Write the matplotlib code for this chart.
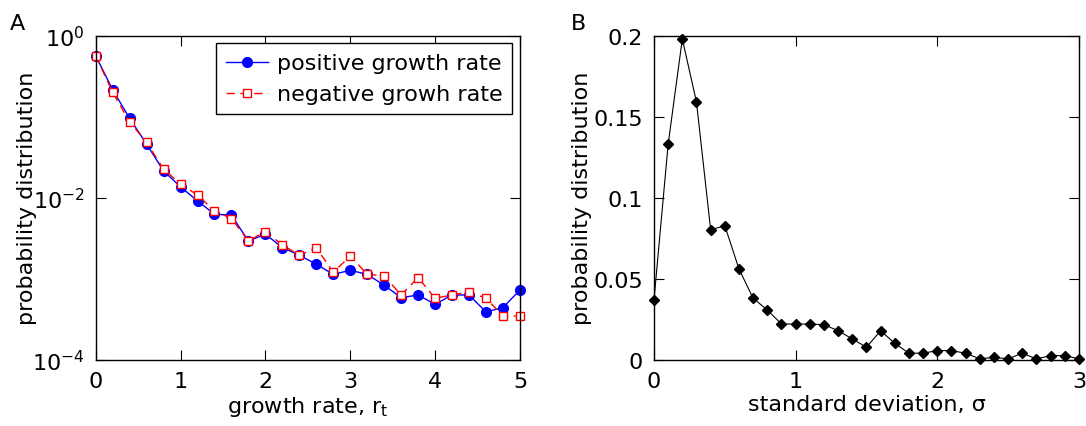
import matplotlib
matplotlib.use("Agg")
import matplotlib.pyplot as plt
import numpy as np

plt.rcParams['font.family'] = ['DejaVu Sans']
plt.rcParams['font.size'] = 16
plt.rcParams['mathtext.default'] = 'regular'

# growth-rate distribution (panel A)
rate = [0.0, 0.2, 0.4, 0.6, 0.8, 1.0, 1.2, 1.4, 1.6, 1.8, 2.0, 2.2, 2.4,
        2.6, 2.8, 3.0, 3.2, 3.4, 3.6, 3.8, 4.0, 4.2, 4.4, 4.6, 4.8, 5.0]
p_pos = [0.566, 0.215, 0.0953, 0.0459, 0.0214, 0.0136, 0.00912, 0.00625,
         0.00608, 0.00292, 0.00354, 0.00242, 0.00195, 0.00151, 0.00113,
         0.00127, 0.00113, 0.00083, 0.000583, 0.000629, 0.000483, 0.000629,
         0.000629, 0.000388, 0.00044, 0.000725]
p_neg = [0.566, 0.200, 0.0865, 0.0481, 0.0225, 0.0147, 0.0108, 0.00687,
         0.00553, 0.00292, 0.00382, 0.00261, 0.00195, 0.00239, 0.00121,
         0.00189, 0.00114, 0.00108, 0.000629, 0.00103, 0.000573, 0.000629,
         0.000686, 0.000573, 0.000346, 0.000346]

# distribution of standard deviations (panel B)
sigma = [0.0, 0.1, 0.2, 0.3, 0.4, 0.5, 0.6, 0.7, 0.8, 0.9, 1.0, 1.1, 1.2,
         1.3, 1.4, 1.5, 1.6, 1.7, 1.8, 1.9, 2.0, 2.1, 2.2, 2.3, 2.4, 2.5,
         2.6, 2.7, 2.8, 2.9, 3.0]
p_sigma = [0.0369, 0.133, 0.198, 0.159, 0.0802, 0.0827, 0.056, 0.0379,
           0.0307, 0.022, 0.022, 0.022, 0.0216, 0.0179, 0.0128, 0.0077,
           0.0179, 0.0101, 0.004, 0.004, 0.0056, 0.0056, 0.004, 0.0005,
           0.0015, 0.0005, 0.004, 0.0005, 0.0025, 0.0025, 0.0005]

fig = plt.figure(figsize=(10.86, 4.27), dpi=100)
ax1 = fig.add_axes([0.0881, 0.1553, 0.3907, 0.7588])
ax2 = fig.add_axes([0.6022, 0.1553, 0.3913, 0.7588])

for ax in (ax1, ax2):
    ax.tick_params(direction='in', top=True, right=True, length=7,
                   width=0.8, pad=8)
    for s in ax.spines.values():
        s.set_linewidth(1.0)

# panel A
ax1.plot(rate, p_pos, '-', color='blue', lw=1.0, marker='o', ms=7,
         mfc='blue', mec='blue', label='positive growth rate', clip_on=False)
ax1.plot(rate, p_neg, color='red', lw=1.0, dashes=(6, 4), marker='s', ms=5.5,
         mfc='white', mec='red', mew=1.0, label='negative growh rate',
         clip_on=False)
ax1.set_yscale('log')
ax1.set_xlim(0, 5)
ax1.set_ylim(1e-4, 1)
ax1.set_yticks([1e-4, 1e-2, 1])
ax1.set_yticklabels([r'$10^{-4}$', r'$10^{-2}$', r'$10^{0}$'])
ax1.minorticks_off()
ax1.set_xticks([0, 1, 2, 3, 4, 5])
ax1.set_xlabel(r'growth rate, r$_t$', labelpad=2)
ax1.set_ylabel('probability distribution')
ax1.yaxis.set_label_coords(-0.138, 0.5)
leg = ax1.legend(loc='upper right', bbox_to_anchor=(0.982, 0.9765),
                 borderaxespad=0, fancybox=False, edgecolor='black',
                 framealpha=1, handlelength=1.9, borderpad=0.45,
                 labelspacing=0.5, handletextpad=0.4, fontsize=16)
leg.get_frame().set_linewidth(1.0)
fig.text(0.009, 0.93, 'A', fontsize=16)

# panel B
ax2.plot(sigma, p_sigma, '-', color='black', lw=0.8, marker='D', ms=5.5,
         mfc='black', mec='black', clip_on=False)
ax2.set_xlim(0, 3)
ax2.set_ylim(0, 0.2)
ax2.set_xticks([0, 1, 2, 3])
ax2.set_yticks([0, 0.05, 0.1, 0.15, 0.2])
ax2.set_yticklabels(['0', '0.05', '0.1', '0.15', '0.2'])
ax2.set_xlabel('standard deviation, σ', labelpad=2)
ax2.set_ylabel('probability distribution')
ax2.yaxis.set_label_coords(-0.146, 0.5)
fig.text(0.526, 0.93, 'B', fontsize=16)

fig.savefig('out.png', dpi=100)
